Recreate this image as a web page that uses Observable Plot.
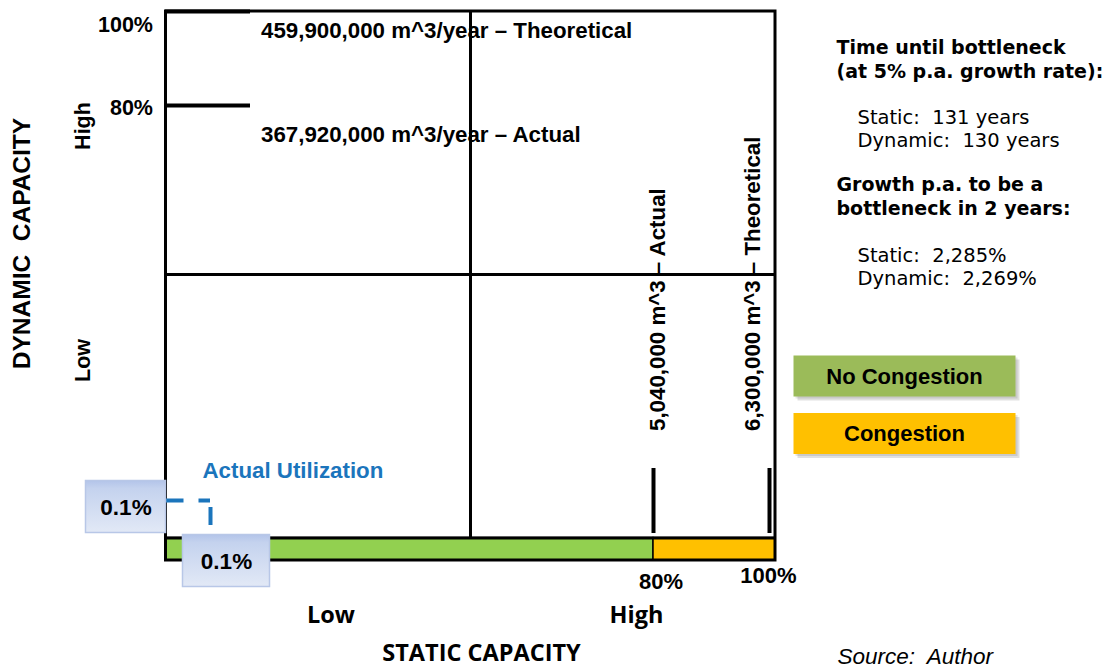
<!DOCTYPE html>
<html>
<head>
<meta charset="utf-8">
<script src="https://cdn.jsdelivr.net/npm/d3@7"></script>
<script src="https://cdn.jsdelivr.net/npm/@observablehq/plot@0.6"></script>
<style>
  body { margin: 0; background: #fff; }
  #chart svg { display: block; }
</style>
</head>
<body>
<div id="chart"></div>
<script>
// ---------------- data ----------------
const staticThresholds = [80, 100];                       // % of static capacity
const staticThresholdLabels = ["80%", "100%"];
const staticCapacityLabels = ["5,040,000 m^3 – Actual", "6,300,000 m^3 – Theoretical"];
const dynamicThresholds = [80, 100];                      // % of dynamic capacity
const dynamicThresholdLabels = ["80%", "100%"];
const dynamicCapacityLabels = ["367,920,000 m^3/year – Actual", "459,900,000 m^3/year – Theoretical"];
const quadrantSplit = 50;
const levelLabels = ["Low", "High"];
const zoneNames = ["No Congestion", "Congestion"];
const zoneStart = [0, 80];
const zoneEnd = [80, 100];
const zoneColors = ["#92d050", "#ffc000"];
const legendColors = ["#9bbb59", "#ffc000"];
const actualUtilization = 0.1;                            // %
const actualUtilizationLabel = "0.1%";
const measures = ["Static", "Dynamic"];
const yearsUntilBottleneck = [131, 130];
const growthForBottleneckIn2Years = ["2,285%", "2,269%"];
const bottleneckHeading = ["Time until bottleneck", "(at 5% p.a. growth rate):"];
const growthHeading = ["Growth p.a. to be a", "bottleneck in 2 years:"];
const sourceNote = "Source:  Author";

// ---------------- derived tables ----------------
const zones = zoneNames.map((name, i) => ({name, start: zoneStart[i], end: zoneEnd[i], fill: zoneColors[i], legendFill: legendColors[i]}));
const yearLines = measures.map((m, i) => `${m}:  ${yearsUntilBottleneck[i]} years`);
const growthLines = measures.map((m, i) => `${m}:  ${growthForBottleneckIn2Years[i]}`);

// ---------------- layout / style ----------------
const W = 1114, H = 668;
const barBand = [-5, 0];   // the utilisation bar sits just below the quadrant grid
// schematic (piecewise) placement: the tiny 0.1% utilisation is drawn exaggerated, as in the original
const schematicX = d3.scaleLinear()
  .domain([0, actualUtilization, quadrantSplit, 100])
  .range([165.5, 210, 470, 775]);
const schematicY = d3.scaleLinear()
  .domain([barBand[0], barBand[1], actualUtilization, quadrantSplit, dynamicThresholds[0], 100])
  .range([560, 537.5, 500, 274, 105, 11]);

const ARIAL = "'Liberation Sans', Arial, Helvetica, sans-serif";
const VERDANA = "'DejaVu Sans', Verdana, sans-serif";
const CALIBRI = "'Open Sans', Calibri, sans-serif";
const BLUE = "#1b75bc";
const bold = {fontFamily: ARIAL, fontWeight: "bold", fontSize: 22.3, fill: "black"};
const at = (text, dx, dy, opts = {}) =>
  Plot.text([text], {frameAnchor: "top-left", dx, dy, lineAnchor: "middle", ...bold, ...opts});
const box = (l, t, r, b, opts) =>
  Plot.frame({insetLeft: l, insetTop: t, insetRight: W - r, insetBottom: H - b, ...opts});

const marks = [
  // utilisation bar (static capacity zones)
  Plot.rect(zones, {x1: "start", x2: "end", y1: barBand[0], y2: barBand[1], fill: "fill", stroke: "black", strokeWidth: 1.5}),
  Plot.ruleY([barBand[1]], {x1: 0, x2: 100, stroke: "black", strokeWidth: 3}),
  // quadrant dividers
  Plot.ruleX([quadrantSplit], {y1: 0, y2: 100, stroke: "black", strokeWidth: 3}),
  Plot.ruleY([quadrantSplit], {x1: 0, x2: 100, stroke: "black", strokeWidth: 3}),
  // outer frame
  Plot.rect([0], {x1: 0, x2: 100, y1: barBand[0], y2: 100, fill: "none", stroke: "black", strokeWidth: 3}),
  // dynamic thresholds (short ticks on the left)
  Plot.ruleY(dynamicThresholds, {insetLeft: 165, insetRight: W - 250, stroke: "black", strokeWidth: 4}),
  // static thresholds (short ticks above the bar)
  ...staticThresholds.map((t, i) =>
    Plot.ruleX([t], {insetTop: 468, insetBottom: H - 533, stroke: "black", strokeWidth: 4, dx: [0, -6][i]})),
  // actual utilisation (dashed)
  Plot.ruleY([actualUtilization], {x1: 0, x2: actualUtilization, stroke: BLUE, strokeWidth: 4, strokeDasharray: "18,15"}),
  Plot.ruleX([actualUtilization], {y1: actualUtilization, y2: 0, stroke: BLUE, strokeWidth: 4, strokeDasharray: "18,15", strokeDashoffset: 26}),
  Plot.text(["Actual Utilization"], {x: actualUtilization, y: actualUtilization, dx: -8, dy: -29.5, textAnchor: "start", ...bold, fill: BLUE}),
  // dynamic threshold labels
  ...dynamicThresholds.map((t, i) =>
    Plot.text([dynamicThresholdLabels[i]], {x: 0, y: t, textAnchor: "end", dx: -13, dy: [3, 14][i], ...bold, fontSize: 21.5})),
  ...dynamicThresholds.map((t, i) =>
    Plot.text([dynamicCapacityLabels[i]], {x: 0, y: t, textAnchor: "start", dx: 95, dy: [29, 19][i], ...bold})),
  // static threshold labels
  ...staticThresholds.map((t, i) =>
    Plot.text([staticThresholdLabels[i]], {x: t, y: barBand[0], textAnchor: "middle", dx: [7.5, -7][i], dy: [21, 15][i], ...bold, fontSize: 22})),
  ...staticThresholds.map((t, i) =>
    Plot.text([staticCapacityLabels[i]], {x: t, y: 0, rotate: -90, textAnchor: "start", dx: [4.5, -22.5][i], dy: -107, ...bold})),
  // 0.1% label boxes
  box(85, 480, 165, 532, {fill: "url(#labelFill)", stroke: "#b8c7e7", strokeWidth: 1.5}),
  box(182, 534, 269, 586, {fill: "url(#labelFill)", stroke: "#b8c7e7", strokeWidth: 1.5}),
  Plot.text([actualUtilizationLabel], {x: 0, y: actualUtilization, textAnchor: "middle", dx: -40, dy: 7, ...bold, fontSize: 22.5}),
  Plot.text([actualUtilizationLabel], {x: actualUtilization, y: barBand[0], textAnchor: "middle", dx: 16, dy: 1, ...bold, fontSize: 22.5}),
  // axis titles
  at("DYNAMIC  CAPACITY", 22, 243, {rotate: -90, textAnchor: "middle", fontSize: 24.5}),
  at(levelLabels[1], 83, 125.5, {rotate: -90, textAnchor: "middle", fontSize: 21.5}),
  at(levelLabels[0], 83, 360, {rotate: -90, textAnchor: "middle", fontSize: 21.5}),
  at(levelLabels[0], 330.5, 614.5, {textAnchor: "middle", fontFamily: CALIBRI, fontSize: 23.5}),
  at(levelLabels[1], 636, 614.5, {textAnchor: "middle", fontFamily: CALIBRI, fontSize: 23.5}),
  at("STATIC CAPACITY", 481, 653, {textAnchor: "middle", fontFamily: CALIBRI, fontSize: 23.5}),
  // legend
  ...zones.flatMap((z, i) => [
    box(797, 359 + i * 57.5, 1019, 400 + i * 57.5, {fill: "#000", fillOpacity: 0.12}),
    box(795, 357 + i * 57.5, 1017, 398 + i * 57.5, {fill: "#000", fillOpacity: 0.1}),
    box(793, 355 + i * 57.5, 1015, 396 + i * 57.5, {fill: z.legendFill}),
    at(z.name, 904, 376 + i * 57.5, {textAnchor: "middle", fontSize: 22})
  ]),
  // right-hand notes
  at(bottleneckHeading.join("\n"), 836, 58, {textAnchor: "start", fontFamily: VERDANA, fontSize: 19, lineHeight: 1.25}),
  at(yearLines.join("\n"), 857, 127.5, {textAnchor: "start", fontFamily: VERDANA, fontWeight: "normal", fontSize: 19.5, lineHeight: 1.2}),
  at(growthHeading.join("\n"), 836, 195, {textAnchor: "start", fontFamily: VERDANA, fontSize: 19, lineHeight: 1.25}),
  at(growthLines.join("\n"), 857, 266, {textAnchor: "start", fontFamily: VERDANA, fontWeight: "normal", fontSize: 19.5, lineHeight: 1.15}),
  at(sourceNote, 837, 656, {textAnchor: "start", fontWeight: "normal", fontStyle: "italic", fontSize: 22.5})
];

const svg = Plot.plot({
  width: W,
  height: H,
  margin: 0,
  x: {transform: schematicX, domain: [0, W], range: [0, W], axis: null},
  y: {transform: schematicY, domain: [0, H], range: [0, H], axis: null},
  color: {type: "identity"},
  style: {background: "#fff", fontFamily: ARIAL},
  marks
});

const ns = "http://www.w3.org/2000/svg";
const defs = document.createElementNS(ns, "defs");
defs.innerHTML = `<linearGradient id="labelFill" x1="0" y1="0" x2="0" y2="1">
  <stop offset="0" stop-color="#b3c4e9"/><stop offset="0.15" stop-color="#c4d2ee"/><stop offset="1" stop-color="#e2e9f6"/>
</linearGradient>`;
svg.insertBefore(defs, svg.firstChild);
document.getElementById("chart").appendChild(svg);
</script>
</body>
</html>
